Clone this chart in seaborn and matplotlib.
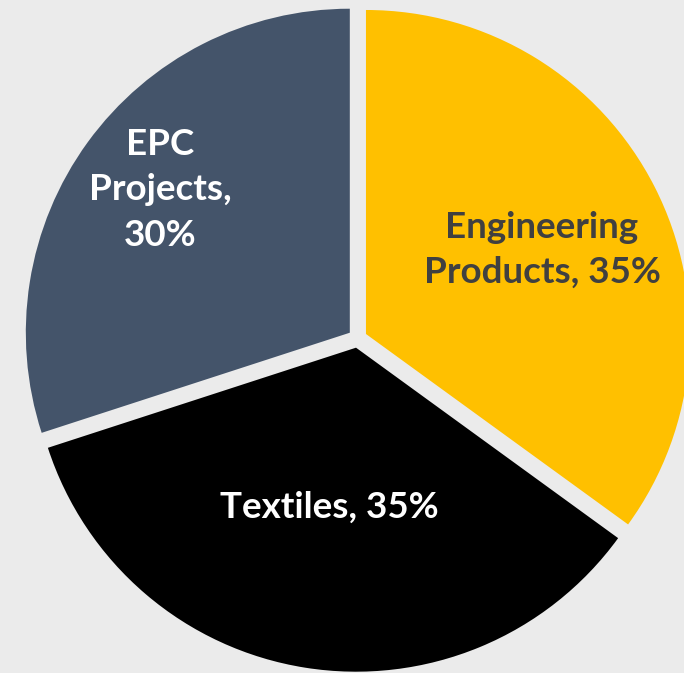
import matplotlib
matplotlib.use("Agg")
import matplotlib.pyplot as plt
import seaborn as sns

# segment share data
segments = ["Engineering\nProducts", "Textiles", "EPC\nProjects"]
shares = [35, 35, 30]
colors = ["#FFC000", "#000000", "#44546A"]
label_colors = ["#404040", "white", "white"]

sns.set_theme(style="white")
plt.rcParams['font.family'] = ['Lato', 'DejaVu Sans']

bg = "#EBEBEB"
fig = plt.figure(figsize=(6.84, 6.73), dpi=100, facecolor=bg)
ax = fig.add_axes([0, 0, 1, 1])
ax.set_facecolor(bg)

wedges, _ = ax.pie(shares, colors=colors, startangle=90, counterclock=False,
                   center=(357.5, 334.7), radius=324, explode=[9.5, 9.5, 9.5],
                   wedgeprops=dict(linewidth=0))

ax.set_xlim(0, 684)
ax.set_ylim(0, 673)
ax.set_aspect("equal")
ax.axis("off")

# label texts
label_pos = [(542, 673 - 250), (329, 673 - 507), (160, 673 - 190)]
texts = [f"{segments[0]}, {shares[0]}%", f"{segments[1]}, {shares[1]}%",
         f"{segments[2]},\n{shares[2]}%"]
for (x, y), t, c in zip(label_pos, texts, label_colors):
    ax.text(x, y, t, ha="center", va="center", color=c, fontsize=26.5,
            fontweight="bold", linespacing=1.45)

fig.savefig("out.png", dpi=100, facecolor=bg)
